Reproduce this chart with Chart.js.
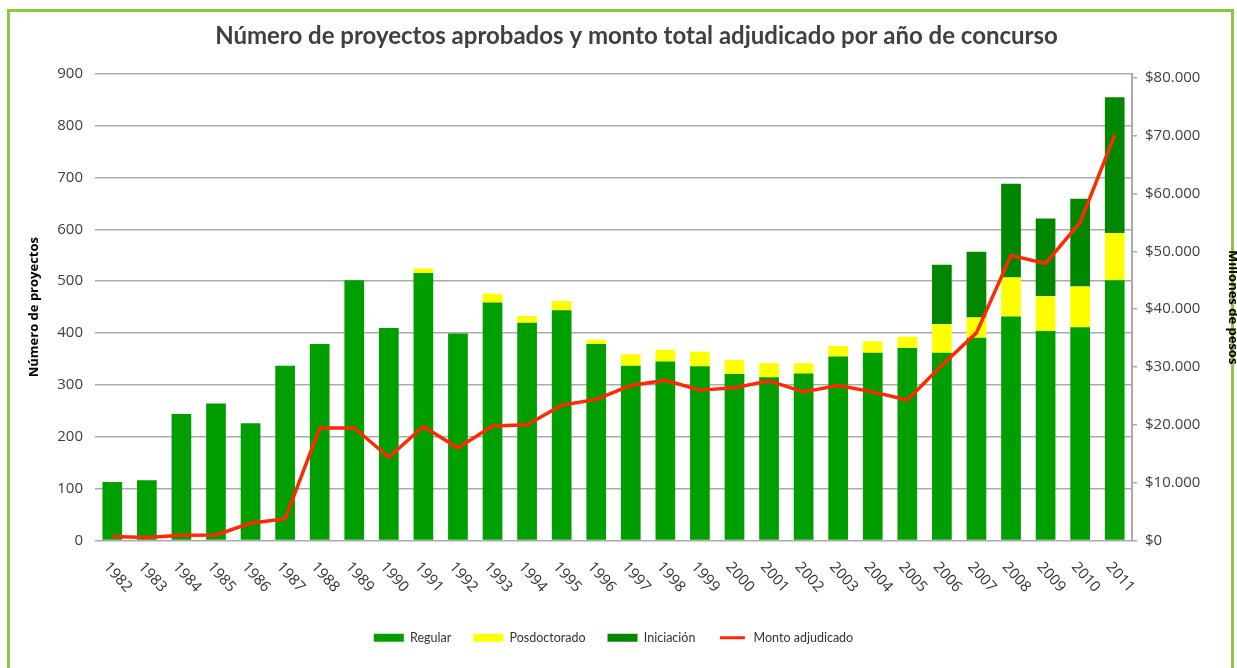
<!DOCTYPE html>
<html>
<head>
<meta charset="utf-8">
<script src="https://cdn.jsdelivr.net/npm/chart.js@4.4.1/dist/chart.umd.min.js"></script>
<style>
  html, body { margin: 0; padding: 0; background: #fff; overflow: hidden; }
  #frame { position: absolute; left: 7px; top: 9px; width: 1227px; height: 700px; border: 3px solid #8dc63f; box-sizing: border-box; }
  #wrap { position: absolute; left: 0; top: 0; width: 1237px; height: 668px; overflow: hidden; }
</style>
</head>
<body>
<div id="frame"></div>
<div id="wrap"><canvas id="projChart" width="1241" height="668"></canvas></div>
<script>
// data
const years = ['1982', '1983', '1984', '1985', '1986', '1987', '1988', '1989', '1990', '1991',
  '1992', '1993', '1994', '1995', '1996', '1997', '1998', '1999', '2000', '2001',
  '2002', '2003', '2004', '2005', '2006', '2007', '2008', '2009', '2010', '2011'];
const regular = [113, 116, 244, 264, 226, 337, 379, 502, 410, 516,
  399, 459, 420, 444, 379, 337, 345, 336, 321, 315,
  322, 355, 362, 371, 362, 391, 432, 404, 411, 502];
const posdoctorado = [0, 0, 0, 0, 0, 0, 0, 0, 0, 9,
  0, 17, 13, 18, 8, 22, 23, 28, 27, 27,
  20, 20, 22, 22, 55, 39, 75, 67, 79, 91];
const iniciacion = [0, 0, 0, 0, 0, 0, 0, 0, 0, 0,
  0, 0, 0, 0, 0, 0, 0, 0, 0, 0,
  0, 0, 0, 0, 115, 127, 181, 150, 169, 262];
// millones de pesos
const montoAdjudicado = [700, 500, 900, 950, 3000, 3750, 19450, 19450, 14400, 19700,
  16000, 19800, 20000, 23400, 24400, 26800, 27700, 26000, 26400, 27600,
  25700, 26800, 25700, 24300, 30300, 35900, 49300, 47900, 55000, 70100];
const leftTicks = [0, 100, 200, 300, 400, 500, 600, 700, 800, 900];
const rightTicks = [0, 10000, 20000, 30000, 40000, 50000, 60000, 70000, 80000];

function pesos(v) {
  return '$' + String(v).replace(/\B(?=(\d{3})+(?!\d))/g, '.');
}

// year labels slanted downwards, drawn under the x axis
const xLabelsPlugin = {
  id: 'xLabels',
  afterDraw(chart) {
    const ctx = chart.ctx;
    const xs = chart.scales.x;
    ctx.save();
    ctx.font = '15px "Open Sans"';
    ctx.fillStyle = '#333';
    ctx.textAlign = 'left';
    ctx.textBaseline = 'middle';
    years.forEach((yr, i) => {
      const px = xs.getPixelForValue(i);
      ctx.save();
      ctx.translate(px - 6, xs.top + 24);
      ctx.rotate(48 * Math.PI / 180);
      ctx.fillText(yr, 0, 0);
      ctx.restore();
    });
    ctx.restore();
  }
};

const ctx = document.getElementById('projChart').getContext('2d');
new Chart(ctx, {
  type: 'bar',
  data: {
    labels: years,
    datasets: [
      { label: 'Regular', data: regular, backgroundColor: '#009f00', yAxisID: 'y', order: 1 },
      { label: 'Posdoctorado', data: posdoctorado, backgroundColor: '#ffff00', yAxisID: 'y', order: 1 },
      { label: 'Iniciación', data: iniciacion, backgroundColor: '#008700', yAxisID: 'y', order: 1 },
      {
        type: 'line',
        label: 'Monto adjudicado',
        data: montoAdjudicado,
        yAxisID: 'y1',
        borderColor: '#ff2a00',
        backgroundColor: '#ff2a00',
        borderWidth: 3.5,
        pointRadius: 0,
        tension: 0,
        borderJoinStyle: 'round',
        order: 0
      }
    ]
  },
  options: {
    responsive: false,
    animation: false,
    categoryPercentage: 1,
    barPercentage: 0.57,
    layout: { padding: { left: 32, right: 0, top: 0, bottom: 14 } },
    plugins: {
      title: {
        display: true,
        text: 'Número de proyectos aprobados y monto total adjudicado por año de concurso',
        color: '#404040',
        font: { family: 'Lato', size: 24, weight: 'bold' },
        padding: { top: 22, bottom: 23 }
      },
      legend: {
        position: 'bottom',
        fullSize: false,
        labels: {
          color: '#333',
          font: { family: 'Lato', size: 12.5 },
          boxWidth: 30,
          boxHeight: 8,
          padding: 22,
          sort: (a, b) => a.datasetIndex - b.datasetIndex,
          generateLabels(chart) {
            const items = Chart.defaults.plugins.legend.labels.generateLabels(chart);
            items.forEach(it => {
              if (it.text === 'Monto adjudicado') {
                it.strokeStyle = '#fff';
                it.lineWidth = 5;
              } else {
                it.lineWidth = 0;
              }
            });
            return items;
          }
        }
      },
      tooltip: { enabled: false }
    },
    scales: {
      x: {
        stacked: true,
        grid: { display: false },
        border: { display: false },
        ticks: { display: false },
        afterFit(scale) { scale.height = 69; }
      },
      y: {
        stacked: true,
        position: 'left',
        min: 0,
        max: 900,
        afterBuildTicks(scale) { scale.ticks = leftTicks.map(v => ({ value: v })); },
        afterFit(scale) { scale.width = 63; },
        grid: { color: '#ababab', lineWidth: 1.5, drawTicks: false },
        border: { display: false },
        ticks: {
          color: '#404040',
          font: { family: 'Open Sans', size: 15 },
          padding: 12
        },
        title: {
          display: true,
          text: 'Número de proyectos',
          color: '#000',
          font: { family: 'Open Sans', size: 13, weight: 'bold' },
          padding: { top: -6, bottom: 0 }
        }
      },
      y1: {
        position: 'right',
        min: 0,
        max: 80693,
        afterBuildTicks(scale) { scale.ticks = rightTicks.map(v => ({ value: v })); },
        afterFit(scale) { scale.width = 109; },
        grid: { drawOnChartArea: false, drawTicks: true, tickLength: 5, color: '#ababab', lineWidth: 1.5 },
        border: { display: true, color: '#ababab', width: 2 },
        ticks: {
          color: '#404040',
          font: { family: 'Open Sans', size: 15 },
          padding: 8,
          callback: v => pesos(v)
        },
        title: {
          display: true,
          text: 'Millones de pesos',
          color: '#000',
          font: { family: 'Open Sans', size: 13, weight: 'bold' },
          padding: { top: 0, bottom: 0 }
        }
      }
    }
  },
  plugins: [xLabelsPlugin]
});
</script>
</body>
</html>
